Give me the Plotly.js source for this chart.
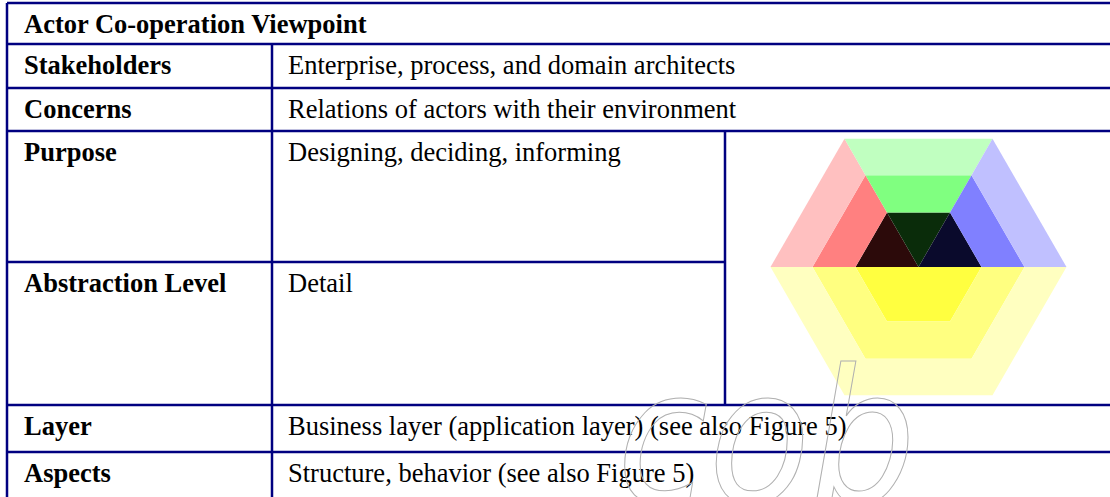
<!DOCTYPE html>
<html>
<head>
<meta charset="utf-8">
<script src="https://cdn.plot.ly/plotly-3.0.1.min.js"></script>
<style>html,body{margin:0;padding:0;background:#fff;}#chart{width:1110px;height:497px;}</style>
</head>
<body>
<div id="chart"></div>
<script>
// ---- content ----
const tableTitle = "Actor Co-operation Viewpoint";
const rowLabels = ["Stakeholders", "Concerns", "Purpose", "Abstraction Level", "Layer", "Aspects"];
const rowValues = [
  "Enterprise, process, and domain architects",
  "Relations of actors with their environment",
  "Designing, deciding, informing",
  "Detail",
  "Business layer (application layer) (see also Figure 5)",
  "Structure, behavior (see also Figure 5)"
];
const watermarkText = "cob";

// hexagon icon: three nested rings, upper half split in three sectors, lower half one colour
const ringRadii = [63, 106, 148];             // inner, middle, outer
const sectorAngles = [[120, 180], [60, 120], [0, 60]]; // left, top, right (degrees)
const sectorColors = [
  ["#2c0a0a", "#ff8080", "#ffc0c0"],          // red: inner, middle, outer
  ["#0a2c0a", "#80ff80", "#c0ffc0"],          // green
  ["#0a0a2c", "#8080ff", "#c0c0ff"]           // blue
];
const lowerColors = ["#ffff40", "#ffff80", "#ffffc0"]; // yellow: inner, middle, outer

// ---- layout geometry ----
const W = 1110, H = 497;
const rowEdges = [3, 44, 88, 131, 262, 405, 452, 497];
const colX = [7, 272, 725];
const lineColor = "#000080";
const fontFamily = "Liberation Serif, Times New Roman, serif";
const fontSize = 26.5;
const hexCenter = [918.5, 267];

const shapes = [];
function hline(y, x0, x1) { shapes.push({type: "line", xref: "x", yref: "y", x0: x0, x1: x1, y0: y, y1: y, line: {color: lineColor, width: 2.5}}); }
function vline(x, y0, y1) { shapes.push({type: "line", xref: "x", yref: "y", x0: x, x1: x, y0: y0, y1: y1, line: {color: lineColor, width: 2.5}}); }
[0, 1, 2, 3, 5, 6].forEach(i => hline(rowEdges[i], colX[0], W + 5));
hline(rowEdges[4], colX[0], colX[2]);
vline(colX[0], rowEdges[0], H + 5);
vline(colX[1], rowEdges[1], H + 5);
vline(colX[2], rowEdges[3], rowEdges[5]);

const annotations = [];
function label(text, x, rowTop, bold) {
  annotations.push({
    xref: "x", yref: "y", x: x, y: rowTop + 21, xanchor: "left", yanchor: "middle",
    text: bold ? "<b>" + text + "</b>" : text, showarrow: false,
    font: {family: fontFamily, size: fontSize, color: "#000"}
  });
}
label(tableTitle, 22, rowEdges[0], true);
rowLabels.forEach((t, i) => label(t, 22, rowEdges[i + 1], true));
rowValues.forEach((t, i) => label(t, 286, rowEdges[i + 1], false));

annotations.push({
  xref: "x", yref: "y", x: 766, y: 438, xanchor: "center", yanchor: "middle",
  text: '<span style="fill:none;stroke:#b0b0b0;stroke-width:1">' + watermarkText + '</span>',
  showarrow: false, textangle: 0,
  font: {family: "Liberation Sans Narrow, DejaVu Sans Condensed, sans-serif", size: 185, color: "#b0b0b0", style: "italic"}
});

// ---- hexagon traces ----
function pt(r, deg) {
  const a = deg * Math.PI / 180;
  return [hexCenter[0] + r * Math.cos(a), hexCenter[1] - r * Math.sin(a)];
}
const traces = [];
function poly(points, color) {
  const xs = points.map(p => p[0]); const ys = points.map(p => p[1]);
  xs.push(xs[0]); ys.push(ys[0]);
  traces.push({type: "scatter", mode: "lines", x: xs, y: ys, fill: "toself", fillcolor: color,
    line: {width: 0, color: color}, hoverinfo: "skip", showlegend: false});
}
sectorAngles.forEach((ang, s) => {
  ringRadii.forEach((r, k) => {
    const rin = k === 0 ? 0 : ringRadii[k - 1];
    const pts = [pt(r, ang[0]), pt(r, ang[1])];
    if (rin === 0) pts.push(pt(0, 0)); else { pts.push(pt(rin, ang[1])); pts.push(pt(rin, ang[0])); }
    poly(pts, sectorColors[s][k]);
  });
});
ringRadii.forEach((r, k) => {
  const rin = k === 0 ? 0 : ringRadii[k - 1];
  const outer = [180, 240, 300, 360].map(a => pt(r, a));
  let pts = outer;
  if (rin > 0) pts = outer.concat([360, 300, 240, 180].map(a => pt(rin, a)));
  poly(pts, lowerColors[k]);
});

const layout = {
  width: W, height: H, margin: {l: 0, r: 0, t: 0, b: 0},
  paper_bgcolor: "#fff", plot_bgcolor: "#fff",
  xaxis: {range: [0, W], visible: false, fixedrange: true},
  yaxis: {range: [H, 0], visible: false, fixedrange: true},
  shapes: shapes, annotations: annotations, showlegend: false
};
Plotly.newPlot("chart", traces, layout, {displayModeBar: false, staticPlot: true});
</script>
</body>
</html>
